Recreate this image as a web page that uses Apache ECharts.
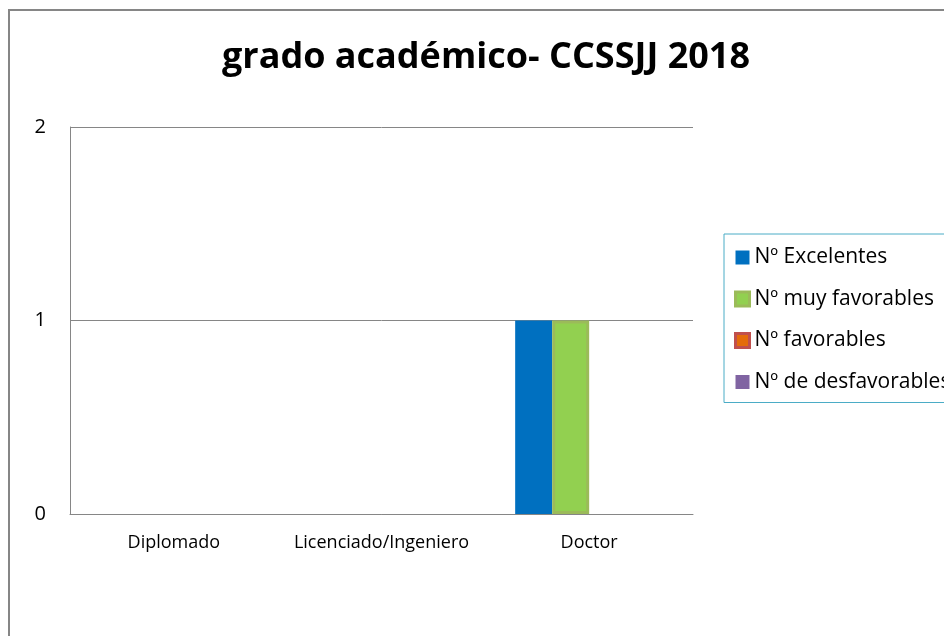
<!DOCTYPE html>
<html><head><meta charset="utf-8">
<script src="https://cdn.jsdelivr.net/npm/echarts@6/dist/echarts.min.js"></script>
<style>html,body{margin:0;padding:0;background:#fff}#c{width:944px;height:636px}</style>
</head><body><div id="c"></div>
<script>
var categories = ["Diplomado", "Licenciado/Ingeniero", "Doctor"];
var seriesNames = ["Nº Excelentes", "Nº muy favorables", "Nº favorables", "Nº de desfavorables"];
var excelentes = [0, 0, 1];
var muyFavorables = [0, 0, 1];
var favorables = [0, 0, 0];
var desfavorables = [0, 0, 0];
var yTicks = [0, 1, 2];

var font = "'Open Sans', sans-serif";
var chart = echarts.init(document.getElementById('c'));
var styles = [
  {color: '#0070C0'},
  {color: '#92D050', borderColor: '#9BBB59', borderWidth: 3},
  {color: '#E46C0A', borderColor: '#C0504D', borderWidth: 3},
  {color: '#8064A2'}
];
var datas = [excelentes, muyFavorables, favorables, desfavorables];
chart.setOption({
  animation: false,
  title: {text: 'grado académico- CCSSJJ 2018', left: 481, top: 35, textAlign: 'center',
    textStyle: {fontFamily: font, fontSize: 36, fontWeight: 'bold', color: '#000'}},
  graphic: [{type: 'rect', shape: {x: 9, y: 10, width: 960, height: 660}, style: {fill: 'none', stroke: '#868686', lineWidth: 2}, silent: true}],
  legend: {orient: 'vertical', left: 724, top: 234, padding: [12, 12, 9, 10],
    borderColor: '#4BACC6', borderWidth: 1, itemWidth: 14, itemHeight: 14, itemGap: 18.5, itemTextGap: 4, icon: 'rect',
    textStyle: {fontFamily: font, fontSize: 21, color: '#000', lineHeight: 23},
    data: seriesNames.map(function (n, i) {
      return {name: n, itemStyle: styles[i]};
    })},
  grid: {left: 70, top: 127, width: 623, height: 387, containLabel: false},
  xAxis: {type: 'category', data: categories,
    axisLine: {lineStyle: {color: '#868686'}}, axisTick: {show: false},
    axisLabel: {fontFamily: font, fontSize: 18, color: '#000', margin: 20, interval: 0}},
  yAxis: {type: 'value', min: yTicks[0], max: yTicks[yTicks.length - 1], interval: 1,
    axisLine: {show: true, lineStyle: {color: '#868686'}}, axisTick: {show: false},
    splitLine: {lineStyle: {color: '#868686'}},
    axisLabel: {fontFamily: font, fontSize: 20, color: '#000', margin: 24}},
  series: seriesNames.map(function (n, i) {
    return {name: n, type: 'bar', barWidth: 37, barGap: '0%', itemStyle: styles[i],
      data: datas[i].map(function (v) {
        return v ? {value: v} : {value: v, itemStyle: {borderWidth: 0, opacity: 0}};
      })};
  })
});
</script></body></html>
